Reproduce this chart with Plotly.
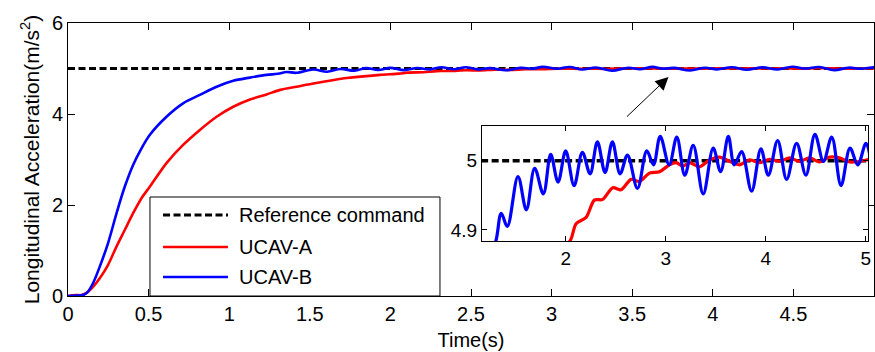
import plotly.graph_objects as go

# ---- data ----
ref_t = [0, 5.06]
ref_v = [5, 5]

ucav_a_t = [0, 0.05, 0.083, 0.12, 0.155, 0.197, 0.248, 0.30, 0.352, 0.404, 0.456, 0.507,
            0.611, 0.714, 0.818, 0.922, 1.025, 1.129, 1.232, 1.316, 1.418, 1.522, 1.729,
            1.936, 2.054, 2.104, 2.204, 2.287, 2.37, 2.47, 2.554, 2.654, 2.738, 2.838,
            2.938, 3.038, 3.105, 3.171, 3.238, 3.338, 3.438, 3.538, 3.638, 3.738, 3.838,
            3.938, 4.038, 4.138, 4.238, 4.338, 4.438, 4.538, 4.638, 4.738, 4.838, 4.938, 5.04]
ucav_a_v = [0, 0.02, 0.02, 0.08, 0.20, 0.39, 0.68, 1.08, 1.45, 1.82, 2.15, 2.40,
            2.92, 3.32, 3.65, 3.94, 4.16, 4.32, 4.43, 4.53, 4.60, 4.67, 4.79,
            4.86, 4.887, 4.909, 4.918, 4.943, 4.944, 4.961, 4.958, 4.973, 4.970, 4.982,
            4.984, 4.994, 4.997, 4.992, 4.997, 4.991, 5.001, 5.005, 4.999, 4.994, 5.001,
            4.997, 5.002, 4.999, 5.004, 4.999, 5.004, 4.998, 5.005, 5.004, 4.998, 4.999, 5.002]

ucav_b_t = [0, 0.05, 0.093, 0.12, 0.155, 0.197, 0.248, 0.301, 0.352, 0.404, 0.456, 0.507,
            0.611, 0.714, 0.818, 0.922, 1.025, 1.129, 1.232, 1.302, 1.356, 1.416, 1.523,
            1.607, 1.69, 1.777, 1.85, 1.924, 2.0, 2.084, 2.167, 2.244, 2.317, 2.394, 2.467,
            2.544, 2.618, 2.718, 2.811, 2.878, 2.945, 3.035, 3.111, 3.191, 3.275, 3.375,
            3.475, 3.549, 3.626, 3.686, 3.759, 3.859, 3.952, 4.026, 4.119, 4.209, 4.309,
            4.402, 4.492, 4.577, 4.66, 4.753, 4.843, 4.92, 5.003, 5.06]
ucav_b_v = [0, 0.01, 0.02, 0.08, 0.28, 0.645, 1.158, 1.817, 2.40, 2.88, 3.245, 3.54,
            3.94, 4.235, 4.42, 4.60, 4.73, 4.80, 4.86, 4.884, 4.924, 4.905, 4.977,
            4.929, 4.989, 4.952, 5.009, 4.969, 5.014, 4.964, 5.012, 4.981, 5.027, 4.983, 5.027,
            4.981, 5.008, 4.960, 5.014, 4.994, 5.035, 4.994, 5.034, 4.979, 5.022, 4.952,
            5.018, 4.984, 5.035, 4.994, 5.013, 4.956, 5.017, 4.979, 5.029, 4.973, 5.025,
            4.979, 5.038, 4.999, 5.034, 4.964, 5.018, 4.994, 5.025, 4.99]

main_xticks = [0, 0.5, 1, 1.5, 2, 2.5, 3, 3.5, 4, 4.5, 5]
main_yticks = [0, 2, 4, 6]
inset_xticks = [2, 3, 4, 5]
inset_yticks = [4.9, 5]
inset_yticktext = ["4.9", "5"]

legend_names = ["Reference command", "UCAV-A", "UCAV-B"]

FONT = "Liberation Sans, Arial, sans-serif"
RED = "#FF0000"
BLUE = "#0000FF"
DASH = "7px,3.5px"

fig = go.Figure()

for xa, ya, w in (("x", "y", 2.6), ("x2", "y2", 3.2)):
    fig.add_trace(go.Scatter(x=ref_t, y=ref_v, mode="lines", xaxis=xa, yaxis=ya,
                             line=dict(color="black", width=w + 0.3, dash=DASH), showlegend=False))
    fig.add_trace(go.Scatter(x=ucav_a_t, y=ucav_a_v, mode="lines", xaxis=xa, yaxis=ya,
                             line=dict(color=RED, width=w, shape="spline", smoothing=0.8),
                             showlegend=False))
    fig.add_trace(go.Scatter(x=ucav_b_t, y=ucav_b_v, mode="lines", xaxis=xa, yaxis=ya,
                             line=dict(color=BLUE, width=w, shape="spline", smoothing=1.0),
                             showlegend=False))

axis_common = dict(showline=True, linecolor="black", linewidth=1, mirror="ticks",
                   ticks="inside", tickcolor="black", showgrid=False, zeroline=False,
                   automargin=False,
                   tickfont=dict(family=FONT, size=20, color="black"))
inset_common = {**axis_common, "tickfont": dict(family=FONT, size=19, color="black")}

fig.update_layout(
    width=875, height=352,
    margin=dict(l=68, r=1, t=23, b=56),
    paper_bgcolor="white", plot_bgcolor="white",
    showlegend=False,
    font=dict(family=FONT, color="black"),
    xaxis=dict(range=[0, 5], tickvals=main_xticks, ticklen=7,
               title=dict(text="Time(s)", font=dict(family=FONT, size=20), standoff=8),
               **axis_common),
    yaxis=dict(range=[0, 6], tickvals=main_yticks, ticklen=7,
               title=dict(text="Longitudinal Acceleration(m/s<sup>2</sup>)",
                          font=dict(family=FONT, size=21), standoff=6),
               **axis_common),
    xaxis2=dict(domain=[0.5136, 0.9926], anchor="y2", range=[1.163, 5.023],
                tickvals=inset_xticks, ticklen=5, **inset_common),
    yaxis2=dict(domain=[0.2015, 0.6227], anchor="x2", range=[4.884, 5.050],
                tickvals=inset_yticks, ticktext=inset_yticktext, ticklen=5, **inset_common),
)

# custom legend box (MATLAB style)
fig.add_shape(type="rect", xref="paper", yref="paper", x0=0.1017, x1=0.4615, y0=0.0, y1=0.3626,
              line=dict(color="black", width=1), fillcolor="white", layer="above")
leg_y = [0.2967, 0.1795, 0.0696]
leg_styles = [dict(color="black", width=2.8, dash=DASH), dict(color=RED, width=2.6),
              dict(color=BLUE, width=2.6)]
for name, yy, st in zip(legend_names, leg_y, leg_styles):
    fig.add_shape(type="line", xref="paper", yref="paper", x0=0.1179, x1=0.1985, y0=yy, y1=yy,
                  line=st, layer="above")
    fig.add_annotation(xref="paper", yref="paper", x=0.2097, y=yy, text=name, showarrow=False,
                       xanchor="left", yanchor="middle",
                       font=dict(family=FONT, size=20, color="black"))

# arrow pointing from the inset to the curve
fig.add_annotation(x=3.725, y=4.813, xref="x", yref="y", ax=-43, ay=41, text="",
                   showarrow=True, arrowhead=2, arrowsize=2.6, arrowwidth=1, arrowcolor="black")

fig.write_html("out.html", config={"displayModeBar": False},
               post_script="document.body.style.margin='0';document.body.style.overflow='hidden';")
